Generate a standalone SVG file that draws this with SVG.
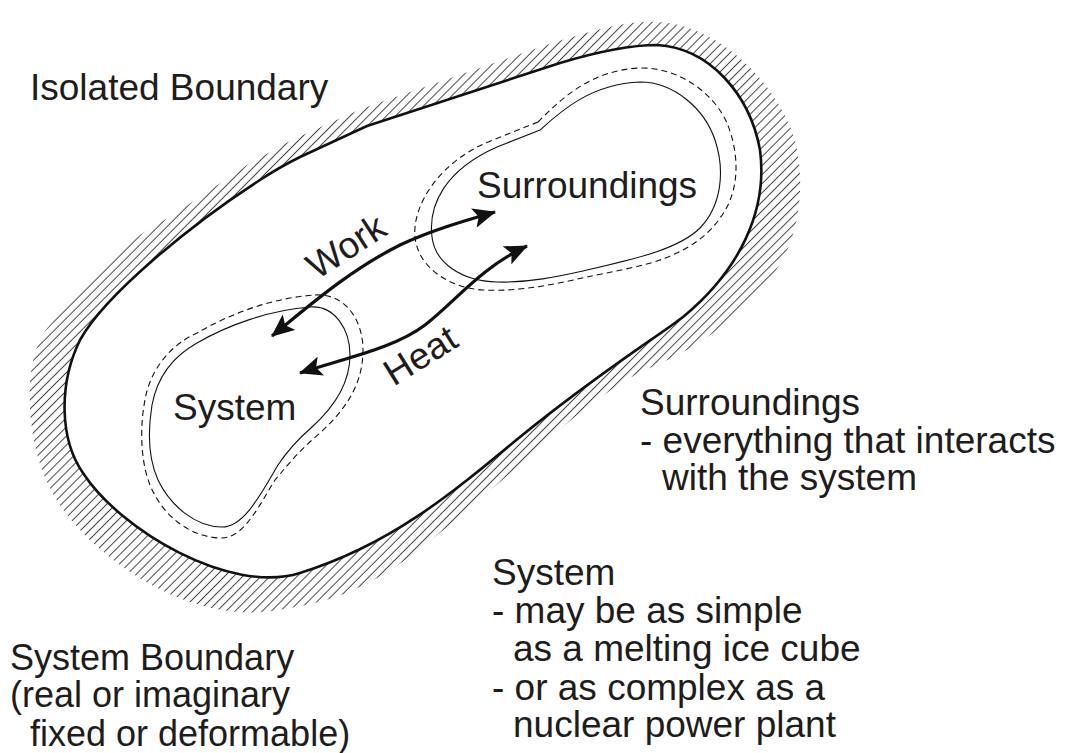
<svg xmlns="http://www.w3.org/2000/svg" width="1070" height="753" viewBox="0 0 1070 753">
<style>
text{font-family:"Liberation Sans",Arial,Helvetica,sans-serif;font-size:37px;fill:#1e1c1d}
.outer{fill:none;stroke:#111;stroke-width:2.6;stroke-linejoin:round}
.solid{fill:none;stroke:#111;stroke-width:1.1}
.dash{fill:none;stroke:#111;stroke-width:1.1;stroke-dasharray:6 4}
.arrow{fill:none;stroke:#111;stroke-width:3.2;marker-start:url(#ah);marker-end:url(#ah)}
</style>
<defs>
<pattern id="hatch" width="6.4" height="10" patternUnits="userSpaceOnUse" patternTransform="rotate(45)">
<line x1="3.2" y1="0" x2="3.2" y2="10" stroke="#444" stroke-width="1"/>
</pattern>
<marker id="ah" viewBox="0 0 23 20" refX="22" refY="10" markerWidth="23" markerHeight="20" markerUnits="userSpaceOnUse" orient="auto-start-reverse">
<path d="M0,0 L23,10 L0,20 L5,10 Z" fill="#111"/>
</marker>
</defs>
<rect width="1070" height="753" fill="#fff"/>

<g id="isolated-boundary">
<path fill="url(#hatch)" fill-rule="evenodd" d="M 555,42 C 590,32 625,20 657,22 C 720,24 778,85 795,140 C 805,180 800,225 785,255 C 770,285 740,315 703,340 C 680,356 655,365 635,375 C 600,395 570,420 533,453 C 500,482 470,508 435,537 C 405,562 360,595 305,605 C 280,610 260,614 240,612 C 200,610 160,592 130,572 C 100,552 65,520 50,488 C 35,460 28,420 30,383 C 32,355 40,335 50,325 C 70,300 85,285 100,268 C 120,248 145,230 168,218 C 195,200 225,180 250,163 C 265,155 280,146 292,140 L 361,109 L 555,42 Z M 657,45 C 710,48 750,95 760,150 C 768,210 740,270 683,317 C 660,335 600,372 520,437 C 450,495 390,545 300,573 C 230,595 120,530 83,473 C 60,440 58,385 80,340 C 105,295 190,225 260,180 C 275,170 288,163 300,157 L 367,126 L 560,63 C 590,54 625,45 657,45 Z"/>
<path class="outer" d="M 657,45 C 710,48 750,95 760,150 C 768,210 740,270 683,317 C 660,335 600,372 520,437 C 450,495 390,545 300,573 C 230,595 120,530 83,473 C 60,440 58,385 80,340 C 105,295 190,225 260,180 C 275,170 288,163 300,157 L 367,126 L 560,63 C 590,54 625,45 657,45 Z"/>
<text x="30" y="100">Isolated Boundary</text>
</g>

<g id="surroundings">
<path class="dash" d="M 538,122 C 560,100 590,70 640,68 C 680,67 715,95 727,123 C 740,155 740,192 720,218 C 705,240 682,252 660,260 C 640,267 610,272 587,277 C 555,284 520,292 483,290 C 450,288 418,268 415,237 C 412,205 440,160 493,140 L 538,122 Z"/>
<path class="solid" d="M 540,130 C 560,112 590,84 640,82 C 675,82 705,110 715,140 C 725,170 722,205 700,228 C 680,248 640,258 587,270 C 560,276 530,283 497,282 C 460,281 435,262 432,237 C 428,205 445,170 497,147 L 540,130 Z"/>
<text x="477" y="198">Surroundings</text>
</g>

<g id="system">
<path class="dash" d="M 315,295 C 345,293 363,320 363,350 C 363,385 345,410 320,433 C 300,450 290,462 275,480 C 262,500 245,538 222,538 C 190,538 162,515 150,485 C 140,460 140,425 145,400 C 150,370 170,345 197,333 C 228,315 270,298 315,295 Z"/>
<path class="solid" d="M 310,307 C 335,305 350,330 350,355 C 350,385 333,408 312,427 C 297,440 288,450 278,465 C 263,490 245,527 222,527 C 195,527 170,505 158,480 C 148,458 148,430 152,405 C 157,378 172,357 197,343 C 228,325 270,310 310,307 Z"/>
<text x="173" y="420">System</text>
</g>

<g id="connectors">
<path class="arrow" d="M 272,336 C 310,305 350,270 400,245 C 430,231 460,222 495,212"/>
<path class="arrow" d="M 300,373 C 345,358 395,348 425,325 C 455,302 480,268 527,246"/>
<text text-anchor="middle" transform="translate(353,257) rotate(-33)">Work</text>
<text text-anchor="middle" transform="translate(427,366) rotate(-32)">Heat</text>
</g>

<g id="surroundings-note">
<text x="640" y="415">Surroundings</text>
<text x="640" y="453">- everything that interacts</text>
<text x="662" y="490">with the system</text>
</g>

<g id="system-note">
<text x="492" y="585">System</text>
<text x="492" y="623">- may be as simple</text>
<text x="513" y="661">as a melting ice cube</text>
<text x="492" y="700">- or as complex as a</text>
<text x="513" y="737">nuclear power plant</text>
</g>

<g id="system-boundary-note" style="font-size:36px">
<text x="10" y="670" style="font-size:36px">System Boundary</text>
<text x="10" y="707" style="font-size:36px">(real or imaginary</text>
<text x="30" y="746" style="font-size:36px">fixed or deformable)</text>
</g>
</svg>
